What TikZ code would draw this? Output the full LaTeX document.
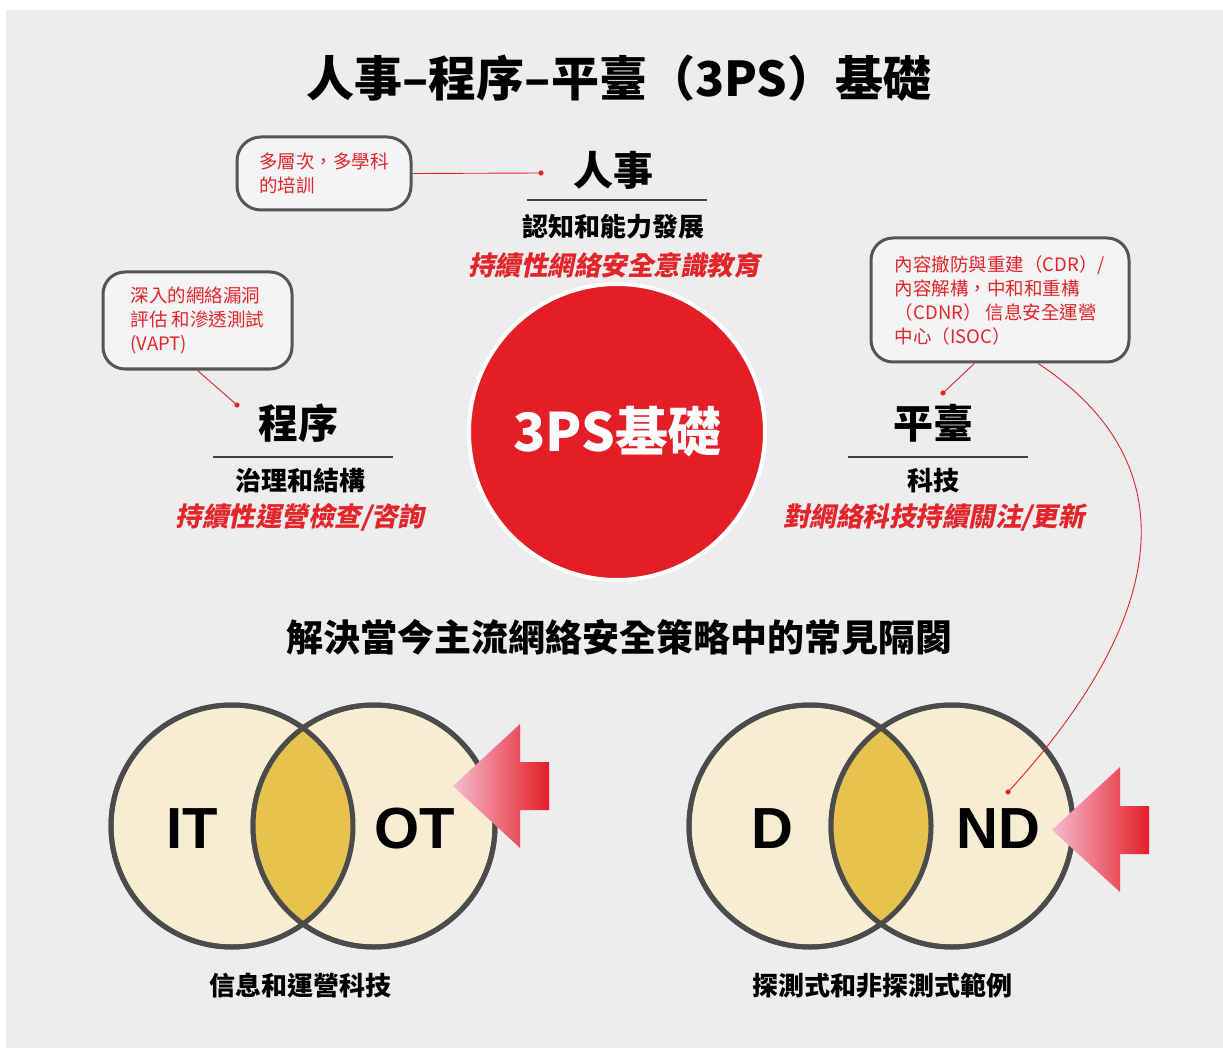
\documentclass[tikz,border=0pt]{standalone}
\usepackage{fontspec}
\setmainfont{Noto Sans CJK TC}
\newfontfamily\slcjk{Noto Sans CJK TC}[BoldFeatures={FakeSlant=0.2}]
\newfontfamily\latinb{Liberation Sans}
\usetikzlibrary{positioning}
\definecolor{bggrey}{HTML}{EDEDED}
\definecolor{redmain}{HTML}{E31E26}
\definecolor{redtext}{HTML}{E3242B}
\definecolor{notefill}{HTML}{F4F4F4}
\definecolor{notegrey}{HTML}{555555}
\definecolor{venngrey}{HTML}{4B4B4B}
\definecolor{cream}{HTML}{F8EDD2}
\definecolor{gold}{HTML}{E8C24F}
\definecolor{pinkarrow}{HTML}{F7BBD0}

\begin{document}
\begin{tikzpicture}[x=1pt, y=-1pt,
  txt/.style={inner sep=0pt},
  head/.style={txt, font=\bfseries\fontsize{40}{40}\selectfont},
  sub/.style={txt, font=\bfseries\fontsize{26}{26}\selectfont},
  hot/.style={txt, text=redtext, font=\slcjk\bfseries\fontsize{26.5}{26.5}\selectfont},
  note/.style={rectangle, rounded corners=24pt, draw=notegrey, line width=3pt,
    fill=notefill, text=redtext, align=left, font=\fontsize{18.5}{24}\selectfont},
  tie/.style={draw=redtext, line width=0.9pt},
  rule/.style={draw=black!75, line width=1.2pt},
  ring/.style={circle, draw=venngrey, line width=5pt, minimum size=242pt, inner sep=0pt},
  letters/.style={txt, font=\latinb\bfseries\fontsize{58}{58}\selectfont}]
\useasboundingbox (0,0) rectangle (1223,1048);
\fill[bggrey] (6,10) rectangle (1223,1048);
%
\node[txt, font=\bfseries\fontsize{48}{48}\selectfont] (title) at (619,78) {人事–程序–平臺（3PS）基礎};
%
\node[circle, fill=redmain, draw=white, line width=4pt, minimum size=296pt,
  text=white, font=\bfseries\fontsize{53}{53}\selectfont] (core) at (617,432) {3PS基礎};
%
\node[head] (people) at (613,170) {人事};
\draw[rule] (527,200) -- (707,200);
\node[sub]  (peopleSub) at (613,227) {認知和能力發展};
\node[hot]  (peopleHot) at (614,265) {持續性網絡安全意識教育};
%
\node[head] (process) at (298,423) {程序};
\draw[rule] (213,457) -- (393,457);
\node[sub]  (processSub) at (300,481) {治理和結構};
\node[hot]  (processHot) at (300,517) {持續性運營檢查/咨詢};
%
\node[head] (tech) at (933,423) {平臺};
\draw[rule] (848,457) -- (1028,457);
\node[sub]  (techSub) at (933,481) {科技};
\node[hot]  (techHot) at (934,517) {對網絡科技持續關注/更新};
%
\node[note, minimum width=174pt, minimum height=73pt] (cPeople) at (324,173.5)
  {多層次，多學科\\的培訓};
\node[note, rounded corners=22pt, minimum width=189pt, minimum height=97pt] (cProcess) at (197.5,320.5)
  {深入的網絡漏洞\\評估 和滲透測試\\(VAPT)};
\node[note, rounded corners=22pt, minimum width=258pt, minimum height=124pt] (cTech) at (1000,300)
  {內容撤防與重建（CDR）/\\內容解構，中和和重構\\（CDNR） 信息安全運營\\中心（ISOC）};
%
\node[txt, font=\bfseries\fontsize{37}{37}\selectfont] (gap) at (619,637) {解決當今主流網絡安全策略中的常見隔閡};
%
% venn diagrams
\node[ring, fill=cream] (it) at (232,826) {};
\node[ring, fill=cream] (ot) at (374,826) {};
\node[ring, fill=cream] (d)  at (810,826) {};
\node[ring, fill=cream] (nd) at (952,826) {};
\begin{scope}
  \clip (232,826) circle (121);
  \fill[gold] (374,826) circle (121);
\end{scope}
\begin{scope}
  \clip (810,826) circle (121);
  \fill[gold] (952,826) circle (121);
\end{scope}
\foreach \c in {(232,826),(374,826),(810,826),(952,826)}
  \draw[venngrey, line width=5pt] \c circle (121);
%
\shade[left color=pinkarrow, right color=redmain]
  (453,786) -- (520,724) -- (520,762) -- (549,762) -- (549,810) -- (520,810) -- (520,848) -- cycle;
\shade[left color=pinkarrow, right color=redmain]
  (1052,830) -- (1120,767) -- (1120,806) -- (1149,806) -- (1149,854) -- (1120,854) -- (1120,892) -- cycle;
%
\node[letters] (itText) at (192,829) {IT};
\node[letters] (otText) at (415,829) {OT};
\node[letters] (dText)  at (772,829) {D};
\node[letters] (ndText) at (998,829) {ND};
%
\node[sub] (itot) at (300,986) {信息和運營科技};
\node[sub] (dnd)  at (882,986) {探測式和非探測式範例};
%
\coordinate (dotPeople)  at (541,173);
\coordinate (dotProcess) at (237,405);
\coordinate (dotTech)    at (943,393);
\coordinate (dotND)      at (1008,792);
\path[tie]
  (cPeople.east)    edge (dotPeople)
  (cProcess.south)  edge (dotProcess)
  (cTech.-112)      edge (dotTech);
\draw[tie] (cTech.-59) .. controls (1185,460) and (1175,610) .. (dotND);
\foreach \p in {dotPeople,dotProcess,dotTech,dotND}
  \fill[redtext] (\p) circle (2.6);
\end{tikzpicture}
\end{document}
